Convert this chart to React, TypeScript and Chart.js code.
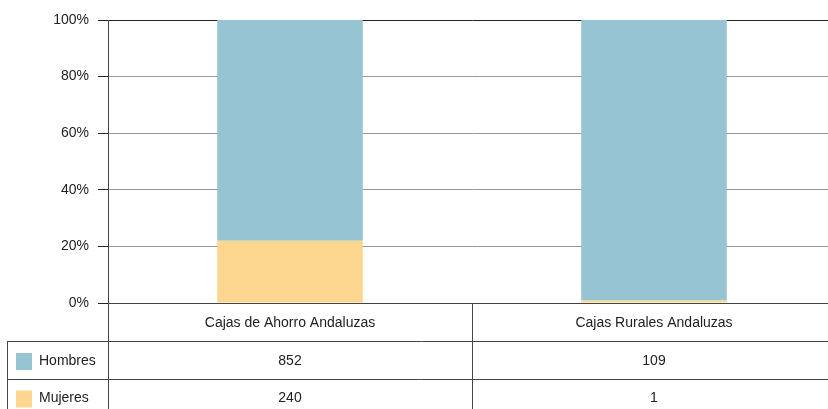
import React, { useEffect, useRef } from "react";
import { Chart, registerables } from "chart.js";

Chart.register(...registerables);

const categories = ["Cajas de Ahorro Andaluzas", "Cajas Rurales Andaluzas"];
const seriesNames = ["Hombres", "Mujeres"];
const hombres = [852, 109];
const mujeres = [240, 1];
const yTicks = [0, 20, 40, 60, 80, 100];

const COLOR_H = "#97c4d3";
const COLOR_M = "#fdd78f";
const FONT = "'Liberation Sans', Arial, sans-serif";
const FSIZE = 14;
const TEXT = "#222";

const totals = categories.map((_, i) => hombres[i] + mujeres[i]);
const pctH = hombres.map((v, i) => (v / totals[i]) * 100);
const pctM = mujeres.map((v, i) => (v / totals[i]) * 100);

const tablePlugin = {
  id: "dataTable",
  afterDraw(chart: any) {
    const ctx = chart.ctx;
    const area = chart.chartArea;
    const x = chart.scales.x;
    const n = categories.length;
    const catW = (area.right - area.left) / n;
    const rowH = 37.5;
    const top = area.bottom;
    const r1 = top + 38;
    const r2 = r1 + rowH;
    const bottom = chart.height;
    const tableLeft = 7;
    ctx.save();
    ctx.strokeStyle = "#444";
    ctx.lineWidth = 1;
    const hl = (x1: number, x2: number, y: number) => {
      ctx.beginPath();
      ctx.moveTo(x1, Math.round(y) + 0.5);
      ctx.lineTo(x2, Math.round(y) + 0.5);
      ctx.stroke();
    };
    const vl = (xx: number, y1: number, y2: number) => {
      ctx.beginPath();
      ctx.moveTo(Math.round(xx) + 0.5, y1);
      ctx.lineTo(Math.round(xx) + 0.5, y2);
      ctx.stroke();
    };
    hl(area.left, area.right, top);
    hl(tableLeft, area.right, r1);
    hl(tableLeft, area.right, r2);
    vl(area.left, area.top, bottom);
    vl(tableLeft, r1, bottom);
    for (let i = 1; i < n; i++) vl(area.left + catW * i, top, bottom);

    ctx.fillStyle = TEXT;
    ctx.font = `${FSIZE}px ${FONT}`;
    ctx.textAlign = "center";
    ctx.textBaseline = "middle";
    categories.forEach((c, i) => {
      const cx = x.getPixelForValue(i);
      ctx.fillText(c, cx, top + 20.5);
      ctx.fillText(String(hombres[i]), cx, r1 + 20);
      ctx.fillText(String(mujeres[i]), cx, r2 + 20);
    });
    const rows = [
      { name: seriesNames[0], color: COLOR_H, y: r1 },
      { name: seriesNames[1], color: COLOR_M, y: r2 },
    ];
    rows.forEach((r) => {
      ctx.fillStyle = r.color;
      ctx.fillRect(16, r.y + 12, 16, 17);
      ctx.fillStyle = TEXT;
      ctx.textAlign = "left";
      ctx.fillText(r.name, 39, r.y + 20);
    });
    ctx.restore();
  },
};

export default function App() {
  const ref = useRef<HTMLCanvasElement | null>(null);
  useEffect(() => {
    if (!ref.current) return;
    const chart = new Chart(ref.current, {
      type: "bar",
      data: {
        labels: categories,
        datasets: [
          {
            label: seriesNames[1],
            data: pctM,
            backgroundColor: COLOR_M,
            barPercentage: 0.4,
            categoryPercentage: 1,
          },
          {
            label: seriesNames[0],
            data: pctH,
            backgroundColor: COLOR_H,
            barPercentage: 0.4,
            categoryPercentage: 1,
          },
        ],
      },
      options: {
        animation: false,
        responsive: false,
        devicePixelRatio: 1,
        layout: { padding: { top: 20, bottom: 106, left: 0, right: 0 } },
        plugins: { legend: { display: false }, tooltip: { enabled: false } },
        scales: {
          x: { stacked: true, display: false },
          y: {
            stacked: true,
            min: 0,
            max: 100,
            afterFit: (axis: any) => {
              axis.width = 108;
            },
            afterBuildTicks: (axis: any) => {
              axis.ticks = yTicks.map((v) => ({ value: v }));
            },
            ticks: {
              padding: 9,
              color: TEXT,
              font: { family: FONT, size: FSIZE },
              callback: (v: any) => v + "%",
            },
            grid: {
              tickLength: 10,
              tickColor: "#222",
              color: (c: any) => (c.tick && c.tick.value === 100 ? "#222" : c.tick && c.tick.value === 0 ? "#777" : "#999"),
            },
            border: { color: "#555" },
          },
        },
      },
      plugins: [tablePlugin],
    });
    return () => chart.destroy();
  }, []);
  return (
    <div style={{ position: "fixed", left: 0, top: 0, width: 828, height: 409, overflow: "hidden", background: "#fff" }}>
      <canvas ref={ref} width={836} height={409} style={{ display: "block", width: 836, height: 409 }} />
    </div>
  );
}
